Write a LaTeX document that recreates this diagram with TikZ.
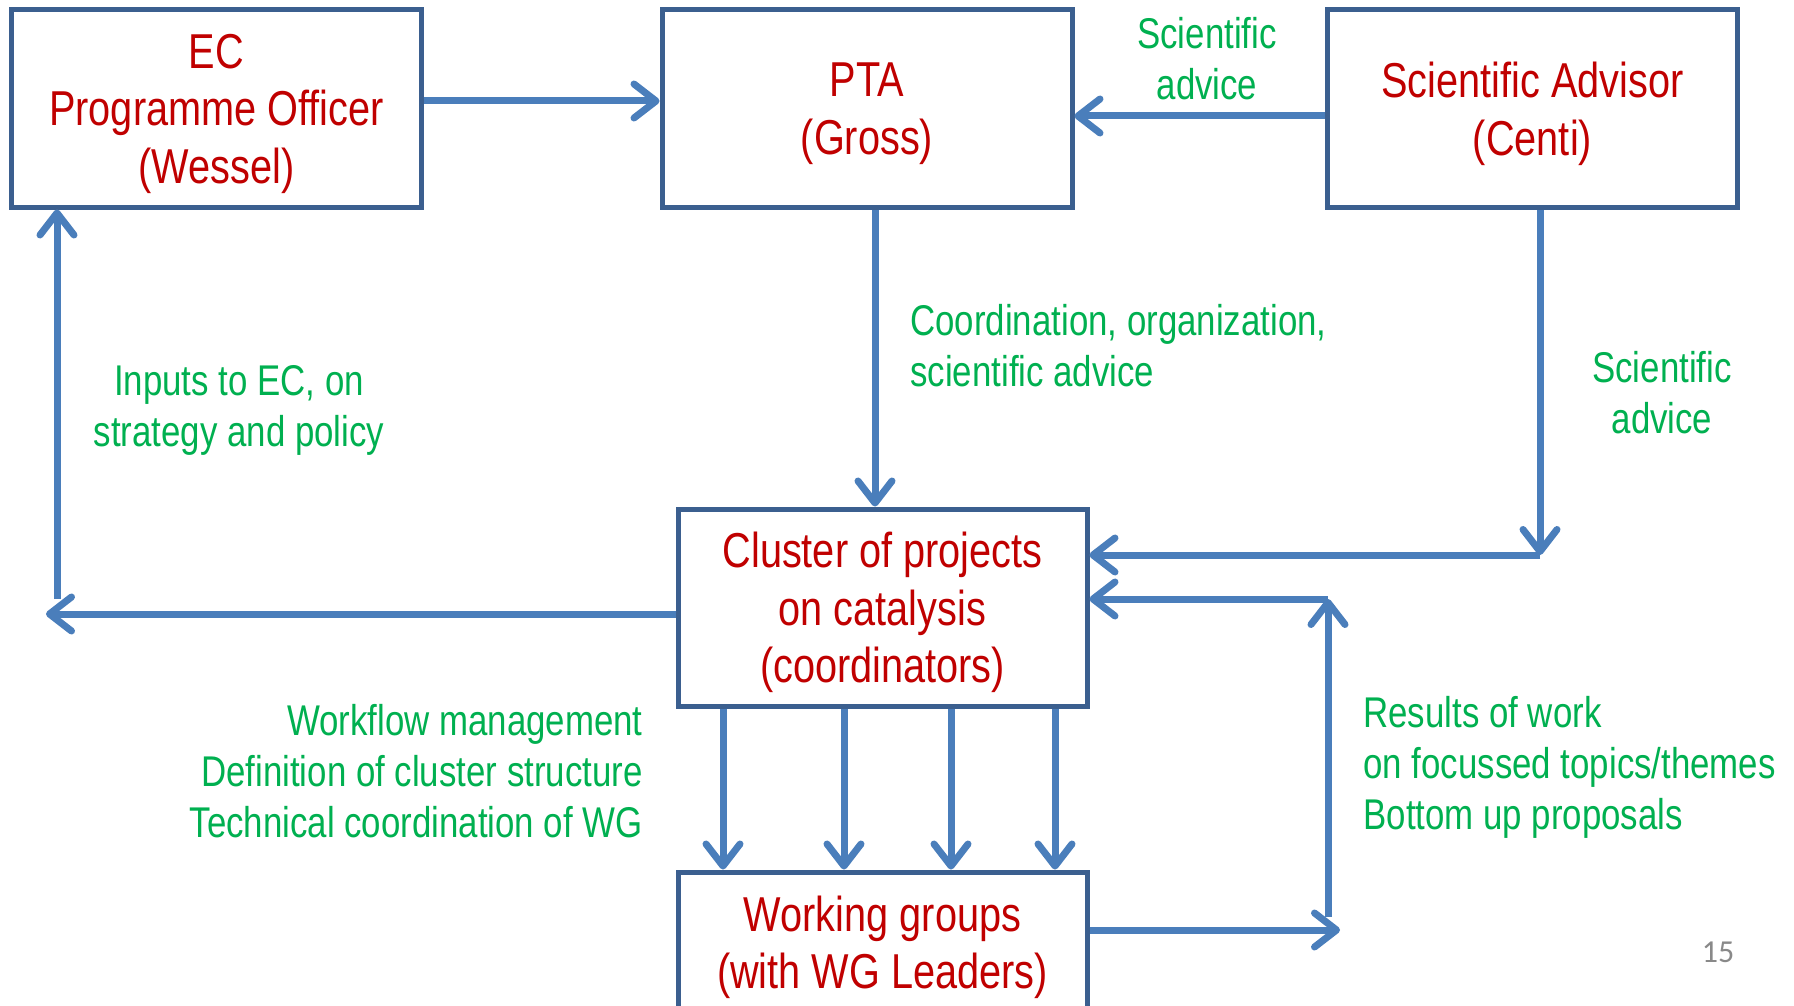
\documentclass[tikz,border=0pt]{standalone}
\usepackage{fontspec}
\setmainfont{Liberation Sans}[FakeStretch=0.81]
\newfontfamily\pgnum{Carlito}
\usetikzlibrary{arrows.meta}
\definecolor{boxblue}{HTML}{3B5F8F}
\definecolor{arrowblue}{HTML}{4A7EBB}
\definecolor{redtxt}{HTML}{C00000}
\definecolor{greentxt}{HTML}{00B050}
\definecolor{pggray}{HTML}{898989}
\begin{document}
\begin{tikzpicture}[x=0.5pt,y=-0.5pt,
  box/.style={draw=boxblue, line width=2.5pt, fill=white, align=center, text=redtxt,
    font=\fontsize{24.5}{28.75}\selectfont, inner sep=0pt,
    minimum width=205pt, minimum height=98.5pt, text depth=-4.1pt},
  conn/.style={draw=arrowblue, line width=3.5pt, -{Straight Barb[length=11pt,width=17pt,round]}},
  lbl/.style={text=greentxt, font=\fontsize{21.5}{25.5}\selectfont, inner sep=0pt},
]
\useasboundingbox (0,0) rectangle (1794,1006);
\fill[white] (0,0) rectangle (1794,1006);

% boxes
\node[box] (ec)  at (216.5,108.5) {EC\\Programme Officer\\(Wessel)};
\node[box] (pta) at (867,108.5) {PTA\\(Gross)};
\node[box] (sa)  at (1532.5,108.5) {Scientific Advisor\\(Centi)};
\node[box, minimum width=204.5pt] (cl) at (882.5,607.5) {Cluster of projects\\on catalysis\\(coordinators)};
\node[box, minimum width=204.5pt, minimum height=70pt, text depth=-1.8pt] (wg) at (882.5,942) {Working groups\\(with WG Leaders)};

% named free ends / corners
\coordinate (sac) at (1540,555);
\coordinate (lc)  at (46,614);
\coordinate (lv)  at (57,599);
\coordinate (wr)  at (1340,930);
\coordinate (ub)  at (1328,917);
\coordinate (ut)  at (1328,599);

% connectors
\draw[conn] ([yshift=3.75pt]ec.east) -- ([yshift=3.75pt]pta.west);
\draw[conn] ([yshift=-3.75pt]sa.west) -- ([yshift=-3.75pt]pta.east);
\draw[conn] ([xshift=4pt]pta.south) -- ([xshift=4pt]pta.south |- cl.north);
\draw[conn] ([xshift=3.75pt]sa.south) -- (sac);
\draw[conn] (sac) -- (sac -| cl.east);
\draw[conn] (cl.west |- lc) -- (lc);
\draw[conn] (lv) -- (lv |- ec.south);
\foreach \dx in {-79.75,-19.25,34.25,86.25}
  \draw[conn] ([xshift=\dx pt]cl.south) -- ([xshift=\dx pt]wg.north);
\draw[conn] (wg.east |- wr) -- (wr);
\draw[conn] (ub) -- (ut);
\draw[conn] (ut) -- (ut -| cl.east);

% labels
\node[lbl, align=center] (l1) at (1207,59) {Scientific\\advice};
\node[lbl, align=left, anchor=west] (l2) at (910,346) {Coordination, organization,\\scientific advice};
\node[lbl, align=center] (l3) at (239,410) {Inputs to EC, on\\strategy and policy};
\node[lbl, align=center] (l4) at (1662,393) {Scientific\\advice};
\node[lbl, align=right, anchor=east] (l5) at (643,771) {Workflow management\\Definition of cluster structure\\Technical coordination of WG};
\node[lbl, align=left, anchor=west] (l6) at (1363,767) {Results of work\\on focussed topics/themes\\Bottom up proposals};
\node[text=pggray, font=\pgnum\fontsize{16}{19}\selectfont, inner sep=0pt] (pg) at (1718,952) {15};
\end{tikzpicture}
\end{document}
